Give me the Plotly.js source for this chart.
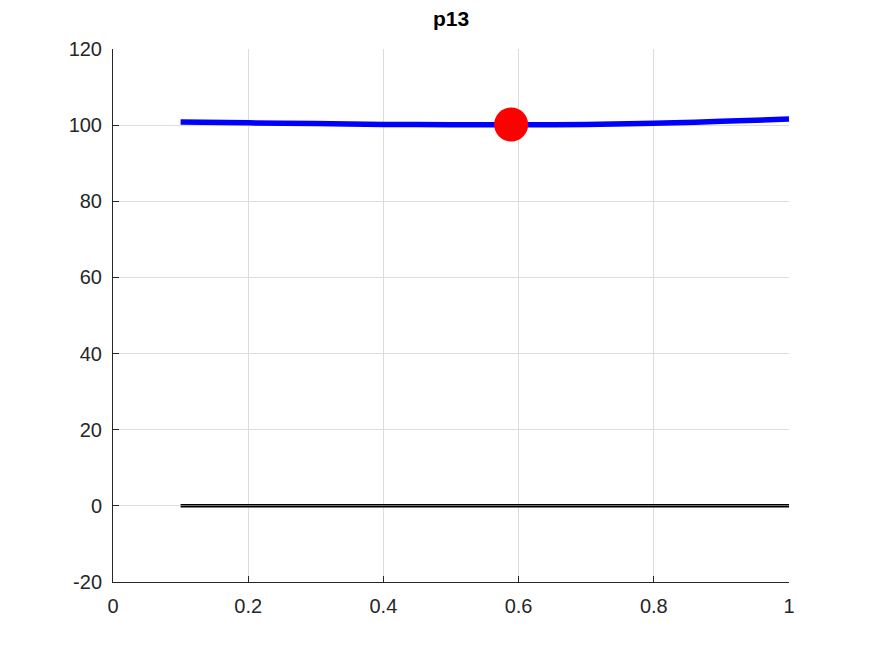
<!DOCTYPE html>
<html>
<head>
<meta charset="utf-8">
<script src="https://cdn.plot.ly/plotly-3.0.1.min.js"></script>
<style>html,body{margin:0;padding:0;background:#fff;}#plot{width:872px;height:654px;}</style>
</head>
<body>
<div id="plot"></div>
<script>
const curveX = [0.1, 0.2, 0.3, 0.4, 0.5, 0.6, 0.7, 0.8, 0.9, 1.0];
const curveY = [100.8, 100.6, 100.4, 100.2, 100.1, 100.1, 100.2, 100.5, 101.0, 101.6];
const baseX = [0.1, 1.0];
const baseUpperY = [0.3, 0.3];
const baseLowerY = [-0.25, -0.25];
const pointX = [0.589];
const pointY = [100.15];
const xTicks = [0, 0.2, 0.4, 0.6, 0.8, 1];
const xTickText = ["0", "0.2", "0.4", "0.6", "0.8", "1"];
const yTicks = [-20, 0, 20, 40, 60, 80, 100, 120];
const yTickText = ["-20", "0", "20", "40", "60", "80", "100", "120"];

const traces = [
  {x: baseX, y: baseUpperY, mode: 'lines', line: {color: '#000', width: 1.5}, hoverinfo: 'skip'},
  {x: baseX, y: baseLowerY, mode: 'lines', line: {color: '#000', width: 1.5}, hoverinfo: 'skip'},
  {x: curveX, y: curveY, mode: 'lines', line: {color: '#0000ff', width: 5.5, shape: 'spline'}},
  {x: pointX, y: pointY, mode: 'markers', marker: {color: '#ff0000', size: 34, line: {width: 0}}}
];

const axisFont = {family: 'Liberation Sans, Arial, sans-serif', size: 20, color: '#262626'};
const layout = {
  width: 872, height: 654,
  margin: {l: 113, r: 83, t: 49, b: 72},
  paper_bgcolor: '#fff', plot_bgcolor: '#fff',
  showlegend: false,
  title: {text: '<b>p13</b>', x: 0.5172, xanchor: 'center', y: 0.972, yanchor: 'middle',
          font: {family: 'Liberation Sans, Arial, sans-serif', size: 21, color: '#000'}},
  xaxis: {range: [0, 1], tickvals: xTicks, ticktext: xTickText, showgrid: true, gridcolor: '#dcdcdc',
          zeroline: false, showline: true, linecolor: '#262626', linewidth: 1,
          ticks: 'inside', ticklen: 6, tickcolor: '#262626', tickfont: axisFont, mirror: false,
          ticklabelstandoff: 6},
  yaxis: {range: [-20, 120], tickvals: yTicks, ticktext: yTickText, showgrid: true, gridcolor: '#dcdcdc',
          zeroline: false, showline: true, linecolor: '#262626', linewidth: 1,
          ticks: 'inside', ticklen: 6, tickcolor: '#262626', tickfont: axisFont, mirror: false,
          ticklabelstandoff: 6}
};
Plotly.newPlot('plot', traces, layout, {displayModeBar: false, staticPlot: true});
</script>
</body>
</html>
